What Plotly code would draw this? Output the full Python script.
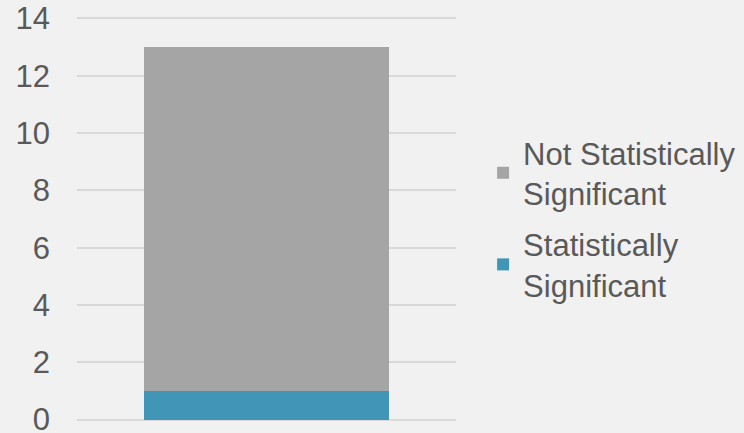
import plotly.graph_objects as go

categories = [""]
significant = [1]
not_significant = [12]
series_names = ["Statistically<br>Significant", "Not Statistically<br>Significant"]
y_ticks = [0, 2, 4, 6, 8, 10, 12, 14]

fig = go.Figure()
fig.add_trace(go.Bar(x=categories, y=significant, name=series_names[0], legendgroup="a",
                     legendrank=2,
                     marker=dict(color="#4195b6", line=dict(width=0))))
fig.add_trace(go.Bar(x=categories, y=not_significant, name=series_names[1], legendgroup="b",
                     legendrank=1,
                     marker=dict(color="#a5a5a5", line=dict(width=0))))

fig.update_layout(
    width=744, height=433,
    barmode="stack", bargap=0.355,
    paper_bgcolor="#f1f1f1", plot_bgcolor="#f1f1f1",
    margin=dict(l=77, r=288, t=17, b=12, autoexpand=False),
    font=dict(family="Liberation Sans, Arial, sans-serif", size=31, color="#595959"),
    showlegend=True,
    legend=dict(x=1.0715, xanchor="left", y=0.5, yanchor="middle",
                traceorder="grouped", font=dict(size=31, color="#595959"),
                bgcolor="rgba(0,0,0,0)", itemclick=False, tracegroupgap=8),
    xaxis=dict(showticklabels=False, showgrid=False, zeroline=False, showline=False),
    yaxis=dict(range=[-0.05, 14.05], tickvals=y_ticks, showgrid=True, gridcolor="#d9d9d9",
               gridwidth=1.5, zeroline=False, showline=False, automargin=False,
               ticklabelstandoff=26, ticklabeloverflow="allow",
               tickfont=dict(size=31, color="#595959")),
)

fig.write_html("out.html", config={"displayModeBar": False},
               post_script="document.body.style.margin='0';document.body.style.overflow='hidden';")
